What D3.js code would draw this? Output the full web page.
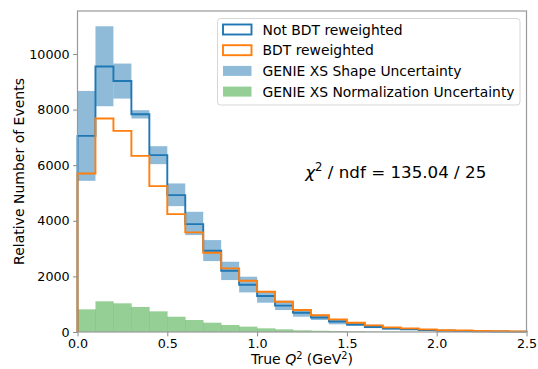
<!DOCTYPE html>
<html>
<head>
<meta charset="utf-8">
<script src="https://cdn.jsdelivr.net/npm/d3@7"></script>
<style>
  body { margin: 0; background: #fff; }
  text { font-family: "DejaVu Sans", sans-serif; fill: #000; }
</style>
</head>
<body>
<div id="chart"></div>
<script>
// bin edges 0.0 .. 2.5 in steps of 0.1
var binLow = [0.0,0.1,0.2,0.3,0.4,0.5,0.6,0.7,0.8,0.9,1.0,1.1,1.2,1.3,1.4,1.5,1.6,1.7,1.8,1.9,2.0,2.1,2.2,2.3,2.4];
var binWidth = 0.1;

var notBDT = [7054,9547,9030,7833,6360,4923,3881,2922,2204,1701,1294,950,694,520,375,270,180,120,100,70,45,35,25,18,12];
var withBDT = [5702,7679,7233,6335,5246,4240,3582,2850,2288,1845,1449,1090,790,600,455,335,240,168,132,96,62,58,40,30,22];
var shapeLo = [5437,8120,8395,7679,6037,4527,3485,2551,1868,1425,1054,790,550,431,276,216,140,90,75,50,30,25,15,10,8];
var shapeHi = [8670,10995,9655,7977,6683,5343,4323,3306,2527,1988,1449,1126,826,622,467,348,260,175,140,100,65,55,40,30,22];
var normUnc = [815,1103,1031,900,743,550,431,335,252,192,132,96,60,45,35,25,18,12,10,7,5,4,3,2,2];

var xTicks = [0.0,0.5,1.0,1.5,2.0,2.5];
var yTicks = [0,2000,4000,6000,8000,10000];
var legendLabels = ["Not BDT reweighted","BDT reweighted","GENIE XS Shape Uncertainty","GENIE XS Normalization Uncertainty"];

var W = 538, H = 369;
var pLeft = 77.5, pRight = 526.5, pTop = 11, pBottom = 332;

var svg = d3.select("#chart").append("svg")
  .attr("width", W).attr("height", H);

var x = d3.scaleLinear().domain([0, 2.5]).range([pLeft, pRight]);
var y = d3.scaleLinear().domain([0, 11545]).range([pBottom, pTop]);

var plot = svg.append("g");

// normalization uncertainty (green)
plot.selectAll("rect.norm").data(binLow).enter().append("rect")
  .attr("class","norm")
  .attr("x", function(d){ return x(d); })
  .attr("width", function(d){ return x(d+binWidth) - x(d) + 0.3; })
  .attr("y", function(d,i){ return y(normUnc[i]); })
  .attr("height", function(d,i){ return y(0) - y(normUnc[i]); })
  .attr("fill","#2ca02c").attr("fill-opacity",0.5);

// shape uncertainty (blue band)
plot.selectAll("rect.shape").data(binLow).enter().append("rect")
  .attr("class","shape")
  .attr("x", function(d){ return x(d); })
  .attr("width", function(d){ return x(d+binWidth) - x(d); })
  .attr("y", function(d,i){ return y(shapeHi[i]); })
  .attr("height", function(d,i){ return y(shapeLo[i]) - y(shapeHi[i]); })
  .attr("fill","#1f77b4").attr("fill-opacity",0.5);

function stepPts(vals) {
  var pts = [[0,0]];
  binLow.forEach(function(b,i){ pts.push([b, vals[i]]); });
  pts.push([2.5, vals[vals.length-1]]);
  pts.push([2.5, 0]);
  return pts;
}
var stepLine = d3.line()
  .x(function(d){ return x(d[0]); })
  .y(function(d){ return y(d[1]); })
  .curve(d3.curveStepAfter);

plot.append("path").attr("d", stepLine(stepPts(notBDT)))
  .attr("fill","none").attr("stroke","#1f77b4").attr("stroke-width",1.9);
plot.append("path").attr("d", stepLine(stepPts(withBDT)))
  .attr("fill","none").attr("stroke","#ff7f0e").attr("stroke-width",1.9);

// axes
var xAxis = d3.axisBottom(x).tickValues(xTicks).tickFormat(d3.format(".1f")).tickSize(4.4).tickPadding(2.3);
var yAxis = d3.axisLeft(y).tickValues(yTicks).tickFormat(d3.format("d")).tickSize(4.4).tickPadding(3.5);

var gx = svg.append("g").attr("transform","translate(0," + pBottom + ")").call(xAxis);
var gy = svg.append("g").attr("transform","translate(" + pLeft + ",0)").call(yAxis);
[gx, gy].forEach(function(g){
  g.select(".domain").remove();
  g.selectAll(".tick line").attr("stroke","#888").attr("stroke-width",1);
  g.selectAll(".tick text").attr("font-size","12.7px").attr("font-family","DejaVu Sans").attr("fill","#000");
});

// frame
svg.append("rect")
  .attr("x", pLeft).attr("y", pTop)
  .attr("width", pRight-pLeft).attr("height", pBottom-pTop)
  .attr("fill","none").attr("stroke","#999").attr("stroke-width",1.2);

// axis labels
var xl = svg.append("text")
  .attr("x", (pLeft+pRight)/2).attr("y", 364)
  .attr("text-anchor","middle").attr("font-size","14px");
xl.append("tspan").text("True ");
xl.append("tspan").attr("font-style","italic").text("Q");
xl.append("tspan").attr("font-size","9.8px").attr("dy",-4.8).text("2");
xl.append("tspan").attr("dy",4.8).text(" (GeV");
xl.append("tspan").attr("font-size","9.8px").attr("dy",-4.8).text("2");
xl.append("tspan").attr("dy",4.8).text(")");

svg.append("text")
  .attr("transform","translate(23.5," + ((pTop+pBottom)/2) + ") rotate(-90)")
  .attr("text-anchor","middle").attr("font-size","14px")
  .text("Relative Number of Events");

// chi2 annotation
var chiX = 1.268, chiY = 5540;
var ct = svg.append("text")
  .attr("x", x(chiX)).attr("y", y(chiY))
  .attr("font-size","16.7px");
ct.append("tspan").attr("font-style","italic").text("χ");
ct.append("tspan").attr("font-size","11.7px").attr("dy",-7).text("2");
ct.append("tspan").attr("dy",7).text(" / ndf = 135.04 / 25");

// legend
var lg = svg.append("g").attr("transform","translate(217.5,18.5)");
lg.append("rect").attr("width",302.5).attr("height",86.5).attr("rx",3)
  .attr("fill","#fff").attr("fill-opacity",0.8)
  .attr("stroke","#d6d6d6").attr("stroke-width",1);

var handles = [
  {fill:"#fff", op:1, stroke:"#1f77b4"},
  {fill:"#fff", op:1, stroke:"#ff7f0e"},
  {fill:"#1f77b4", op:0.5, stroke:"none"},
  {fill:"#2ca02c", op:0.5, stroke:"none"}
];
legendLabels.forEach(function(lbl,i){
  var cy = 11 + i*20.7;
  var h = handles[i];
  lg.append("rect")
    .attr("x",5.5).attr("y",cy-5).attr("width",28.5).attr("height",10)
    .attr("fill",h.fill).attr("fill-opacity",h.op)
    .attr("stroke",h.stroke).attr("stroke-width",1.9);
  lg.append("text").attr("x",45).attr("y",cy+5)
    .attr("font-size","13.9px").text(lbl);
});
</script>
</body>
</html>
